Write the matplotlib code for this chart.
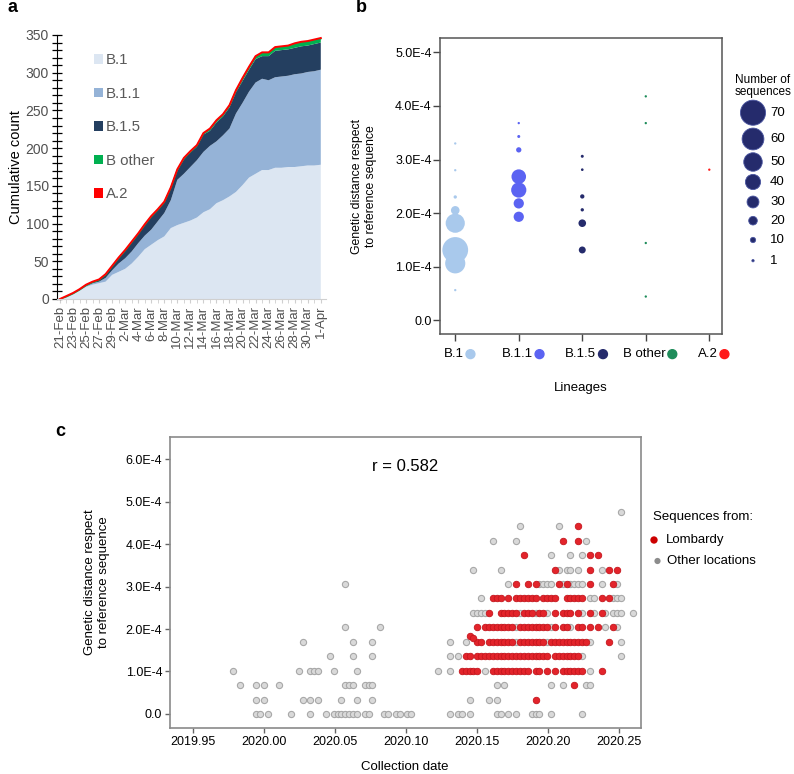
import matplotlib
matplotlib.use('Agg')
import matplotlib.pyplot as plt
import numpy as np
from matplotlib.patches import Patch, Circle
from matplotlib.offsetbox import TextArea, DrawingArea, HPacker, AnnotationBbox
from matplotlib.ticker import MultipleLocator, FixedLocator

plt.rcParams['font.family'] = ['Liberation Sans', 'DejaVu Sans']

# ---------------- Panel a data (cumulative counts per day) ----------------
dates = ['21-Feb', '22-Feb', '23-Feb', '24-Feb', '25-Feb', '26-Feb', '27-Feb', '28-Feb', '29-Feb',
         '1-Mar', '2-Mar', '3-Mar', '4-Mar', '5-Mar', '6-Mar', '7-Mar', '8-Mar', '9-Mar', '10-Mar',
         '11-Mar', '12-Mar', '13-Mar', '14-Mar', '15-Mar', '16-Mar', '17-Mar', '18-Mar', '19-Mar',
         '20-Mar', '21-Mar', '22-Mar', '23-Mar', '24-Mar', '25-Mar', '26-Mar', '27-Mar', '28-Mar',
         '29-Mar', '30-Mar', '31-Mar', '1-Apr']
cum_b1 = [0, 3, 7, 11, 16, 19, 21, 23, 32, 36, 40, 47, 56, 66, 72, 78, 83, 94, 98, 101, 104,
          108, 115, 119, 127, 131, 136, 142, 151, 161, 166, 171, 171, 174, 174, 175, 175, 176,
          177, 177, 178]
cum_b11 = [0, 0, 0, 1, 1, 2, 2, 5, 6, 11, 14, 16, 18, 18, 20, 25, 31, 37, 60, 65, 71, 76, 80,
           84, 82, 86, 90, 104, 109, 114, 121, 121, 119, 120, 121, 121, 123, 123, 124, 125, 126]
cum_b15 = [0, 0, 0, 0, 1, 1, 2, 4, 5, 7, 10, 12, 12, 14, 17, 15, 14, 16, 12, 19, 19, 18, 23,
           20, 25, 25, 28, 28, 29, 29, 31, 30, 32, 35, 35, 35, 35, 36, 35, 36, 36]
cum_bother = [0, 0, 0, 0, 0, 0, 0, 0, 0, 0, 0, 0, 0, 0, 0, 0, 0, 0, 1, 1, 1, 1, 1, 2, 2, 2, 2,
              2, 3, 3, 3, 4, 4, 4, 4, 4, 5, 5, 5, 5, 5]
cum_a2 = [0, 1, 1, 1, 1, 1, 1, 1, 1, 1, 1, 1, 1, 1, 1, 1, 1, 1, 1, 1, 1, 1, 1, 1, 1, 1, 1, 1,
          1, 1, 1, 1, 1, 1, 1, 1, 1, 1, 1, 1, 1]
a_labels = ['B.1', 'B.1.1', 'B.1.5', 'B other', 'A.2']
a_colors = ['#DCE6F2', '#95B3D7', '#243F60', '#00B050', '#FF0000']

# ---------------- Panel b data ----------------
lineages = ['B.1', 'B.1.1', 'B.1.5', 'B other', 'A.2']
b_colors = ['#A9C9EC', '#5B63F2', '#252B6C', '#1E8C5A', '#FF1A1A']
b_dist = [
    [3.30e-4, 2.80e-4, 2.30e-4, 2.05e-4, 1.81e-4, 1.31e-4, 1.06e-4, 0.56e-4],
    [3.68e-4, 3.43e-4, 3.18e-4, 2.68e-4, 2.43e-4, 2.18e-4, 1.93e-4],
    [3.06e-4, 2.81e-4, 2.31e-4, 2.06e-4, 1.81e-4, 1.31e-4],
    [4.18e-4, 3.68e-4, 1.44e-4, 0.44e-4],
    [2.81e-4],
]
b_count = [
    [1, 1, 4, 20, 52, 72, 55, 1],
    [1, 3, 10, 38, 40, 25, 25],
    [3, 2, 7, 4, 17, 15],
    [1, 1, 1, 1],
    [1],
]
size_legend = [70, 60, 50, 40, 30, 20, 10, 1]

# ---------------- Panel c data (collection day since 1 Jan 2020, mutations) ----------------
other_rows = {
    0: [-2, -1, 1, 7, 12, 16, 18, 19, 20, 21, 22, 23, 24, 26, 27, 31, 32, 34, 35, 37, 38, 48,
        50, 51, 53, 60, 61, 63, 65, 69, 70, 71, 74, 82],
    1: [-2, 0, 10, 12, 14, 20, 24, 28, 53, 58, 60],
    2: [-6, -2, 0, 4, 21, 22, 23, 26, 27, 28, 60, 62, 74, 77, 83, 84],
    3: [-8, 9, 12, 13, 14, 18, 24, 45, 48, 57, 84],
    4: [17, 23, 28, 48, 50, 82, 92],
    5: [10, 23, 28, 48, 52, 65, 73, 84, 92],
    6: [21, 30, 65, 74, 79, 88, 91],
    7: [54, 55, 56, 57, 66, 70, 73, 82, 85, 88, 90, 91, 92, 95],
    8: [56, 84, 85, 90, 91, 92],
    9: [21, 63, 71, 72, 73, 74, 77, 79, 80, 81, 82, 87, 91],
    10: [54, 61, 76, 78, 79, 81, 87],
    11: [74, 79, 82],
    12: [59, 65, 83],
    13: [66, 76],
    14: [92],
}
lomb_rows = {
    1: [70],
    2: [80],
    3: [51, 52, 53, 54, 55, 59, 60, 61, 62, 63, 64, 65, 66, 67, 68, 70, 71, 73, 75, 77, 78,
        79, 80, 81, 82, 87],
    4: [52, 53, 55, 56, 57, 58, 59, 60, 61, 62, 63, 64, 65, 66, 67, 68, 69, 70, 71, 72, 73,
        75, 76, 77, 78, 79, 80, 81],
    5: [55, 56, 58, 59, 60, 61, 62, 63, 64, 66, 67, 68, 69, 70, 71, 72, 74, 75, 76, 77, 78,
        79, 80, 81, 82, 83, 89],
    6: [55, 57, 58, 59, 60, 61, 62, 63, 64, 66, 67, 68, 69, 70, 71, 72, 73, 75, 77, 78, 81,
        82, 84, 86, 90],
    7: [58, 61, 62, 63, 64, 65, 67, 68, 69, 71, 72, 75, 77, 78, 79, 81, 84, 87],
    8: [59, 60, 61, 63, 65, 66, 67, 68, 69, 70, 72, 73, 74, 75, 78, 79, 80, 81, 82, 87, 89],
    9: [65, 68, 70, 76, 78, 84, 90],
    10: [75, 84, 89, 91],
    11: [67, 84, 86],
    12: [77, 81],
    13: [81],
}
lomb_extra_day = [53, 54]
lomb_extra_mut = [5.4, 5.25]
dist_per_mutation = 3.4e-5
r_value = 0.582

# ======================================================================
fig = plt.figure(figsize=(7.94, 7.74), dpi=100)
W, H = 794.0, 774.0


def fbox(l, t, r, b):
    return [l / W, 1 - b / H, (r - l) / W, (b - t) / H]


# overlay axes in pixel coordinates for manual annotations
ov = fig.add_axes([0, 0, 1, 1], facecolor='none', zorder=10)
ov.set_xlim(0, W)
ov.set_ylim(H, 0)
ov.axis('off')

# ---------------- Panel a ----------------
axa = fig.add_axes(fbox(56.7, 35, 326, 299))
xa = np.arange(len(dates))
axa.stackplot(xa, cum_b1, cum_b11, cum_b15, cum_bother, cum_a2, colors=a_colors, linewidth=0)
tot = np.array(cum_b1) + np.array(cum_b11) + np.array(cum_b15) + np.array(cum_bother) + np.array(cum_a2)
below = tot - np.array(cum_a2)
axa.plot(xa, below, color='#00B050', lw=1.0)
axa.plot(xa, tot, color='#FF0000', lw=1.4)
axa.set_xlim(-0.5, 40.8)
axa.set_ylim(0, 350)
axa.yaxis.set_major_locator(MultipleLocator(50))
axa.yaxis.set_minor_locator(MultipleLocator(10))
axa.set_xticks(xa[::2])
axa.set_xticklabels(dates[::2], rotation=90, fontsize=9.5, color='#505050')
axa.xaxis.set_minor_locator(FixedLocator(xa))
axa.tick_params(axis='y', which='both', direction='inout', length=7, width=0.9,
                labelsize=10, labelcolor='#505050', pad=2)
axa.tick_params(axis='x', which='both', direction='out', length=3, color='#cfcfcf', pad=2)
for s in ['top', 'right']:
    axa.spines[s].set_visible(False)
axa.spines['left'].set_color('black')
axa.spines['bottom'].set_color('#d0d0d0')
axa.set_ylabel('Cumulative count', fontsize=10.5, color='black', labelpad=2)
handles = [Patch(facecolor=c, edgecolor='none') for c in a_colors]
axa.legend(handles, a_labels, loc='upper left', bbox_to_anchor=(0.14, 0.93), frameon=False,
           fontsize=10.8, handlelength=0.6, handleheight=0.6, handletextpad=0.15,
           labelspacing=1.3, labelcolor='#595959', borderpad=0, borderaxespad=0)

# ---------------- Panel b ----------------
axb = fig.add_axes(fbox(440, 38, 722, 334))


def bubble_s(n):
    d_px = 2.0 + 0.33 * np.asarray(n, dtype=float)
    return (d_px * 0.72) ** 2


for i, lin in enumerate(lineages):
    axb.scatter(np.full(len(b_dist[i]), i), b_dist[i], s=bubble_s(b_count[i]),
                color=b_colors[i], edgecolors='none', zorder=3)
axb.set_xlim(-0.24, 4.2)
axb.set_ylim(-0.26e-4, 5.27e-4)
yt = [0, 1e-4, 2e-4, 3e-4, 4e-4, 5e-4]
axb.set_yticks(yt)
axb.set_yticklabels(['0.0', '1.0E-4', '2.0E-4', '3.0E-4', '4.0E-4', '5.0E-4'], fontsize=9)
axb.set_xticks(range(len(lineages)))
axb.set_xticklabels([''] * len(lineages))
axb.tick_params(axis='both', direction='out', length=5, width=1, color='#444444', pad=1)
for s in axb.spines.values():
    s.set_color('#555555')
    s.set_linewidth(1.1)
for i, lin in enumerate(lineages):
    ta = TextArea(lin, textprops=dict(fontsize=9.5, color='black'))
    da = DrawingArea(7, 7, 0, 0)
    da.add_artist(Circle((3.5, 3.5), 3.2, color=b_colors[i]))
    pk = HPacker(children=[ta, da], align='center', pad=0, sep=1.5)
    ab = AnnotationBbox(pk, (i, 0), xycoords=('data', 'axes fraction'), xybox=(3.0, -14.5),
                        boxcoords='offset points', frameon=False, box_alignment=(0.5, 0.5))
    axb.add_artist(ab)
ov.text(581, 388, 'Lineages', fontsize=9.5, ha='center', va='center')
ov.text(364, 186, 'Genetic distance respect\nto reference sequence', fontsize=8.8,
        rotation=90, ha='center', va='center', multialignment='center')
# bubble legend
ov.text(763, 86, 'Number of\nsequences', fontsize=8.5, ha='center', va='center',
        multialignment='center', linespacing=1.0)
leg_y = [112.7, 139, 162, 182, 202, 220.7, 240, 260.7]
ov.scatter(np.full(len(size_legend), 753), leg_y, s=bubble_s(size_legend), color='#252B6C',
           edgecolors='#4a55a0', linewidths=0.6)
for yy, n in zip(leg_y, size_legend):
    ov.text(770, yy, str(n), fontsize=9.5, ha='left', va='center')

# ---------------- Panel c ----------------
axc = fig.add_axes(fbox(170, 437, 641, 728))


def day_to_year(d):
    return 2020 + np.asarray(d, dtype=float) / 366.0


ox, oy = [], []
for k, days in other_rows.items():
    ox += list(days)
    oy += [k] * len(days)
lx, ly = [], []
for k, days in lomb_rows.items():
    lx += list(days)
    ly += [k] * len(days)
lx += lomb_extra_day
ly += lomb_extra_mut
axc.scatter(day_to_year(ox), np.array(oy) * dist_per_mutation, s=20, facecolor='#D9D9D9',
            edgecolor='#A8A8A8', linewidths=0.8, zorder=2)
axc.scatter(day_to_year(lx), np.array(ly) * dist_per_mutation, s=22, facecolor='#E3242B',
            edgecolor='#C4161D', linewidths=0.6, zorder=3)
axc.set_xlim(2019.934, 2020.2655)
axc.set_ylim(-0.33e-4, 6.52e-4)
axc.set_yticks([0, 1e-4, 2e-4, 3e-4, 4e-4, 5e-4, 6e-4])
axc.set_yticklabels(['0.0', '1.0E-4', '2.0E-4', '3.0E-4', '4.0E-4', '5.0E-4', '6.0E-4'],
                    fontsize=9)
xt = [2019.95, 2020.00, 2020.05, 2020.10, 2020.15, 2020.20, 2020.25]
axc.set_xticks(xt)
axc.set_xticklabels(['2019.95', '2020.00', '2020.05', '2020.10', '2020.15', '2020.20', '2020.25'],
                    fontsize=9)
axc.tick_params(axis='both', direction='out', length=3.5, width=1, color='#666666', pad=2)
for s in axc.spines.values():
    s.set_color('#8a8a8a')
    s.set_linewidth(1.2)
axc.text(0.5, 0.9, 'r = %.3f' % r_value, transform=axc.transAxes, fontsize=12,
         ha='center', va='center')
ov.text(405, 767, 'Collection date', fontsize=9.5, ha='center', va='center')
ov.text(97, 582, 'Genetic distance respect\nto reference sequence', fontsize=9.5,
        rotation=90, ha='center', va='center', multialignment='center')
# legend c
ov.text(653, 517, 'Sequences from:', fontsize=9.5, ha='left', va='center')
ov.scatter([654], [540], s=28, color='#CC0000', edgecolors='none')
ov.scatter([657.5], [561], s=20, color='#8C8C8C', edgecolors='none')
ov.text(666, 540, 'Lombardy', fontsize=9.5, ha='left', va='center')
ov.text(667, 561, 'Other locations', fontsize=9.5, ha='left', va='center')

# panel letters
ov.text(13, 8, 'a', fontsize=13, fontweight='bold', ha='center', va='center')
ov.text(361, 8, 'b', fontsize=13, fontweight='bold', ha='center', va='center')
ov.text(60, 432, 'c', fontsize=13, fontweight='bold', ha='center', va='center')

fig.savefig('out.png', dpi=100)
